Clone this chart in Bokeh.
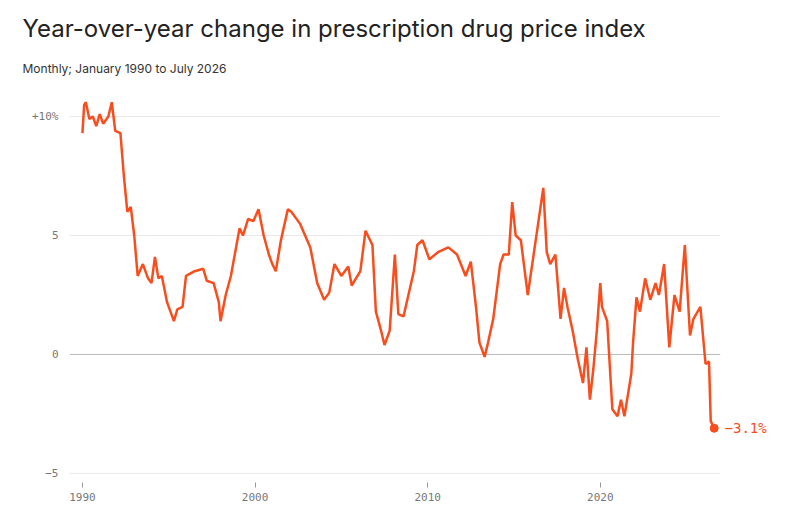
from bokeh.plotting import figure
from bokeh.models import Title, FixedTicker, CustomJSTickFormatter
from bokeh.core.properties import value
from bokeh.embed import file_html
from bokeh.resources import INLINE

years = [1990.0,1990.1,1990.2,1990.4,1990.6,1990.8,1991.0,1991.2,1991.5,1991.7,1991.9,1992.2,1992.4,1992.6,1992.8,1993.0,1993.2,1993.5,1993.8,1994.0,1994.2,1994.4,1994.6,1994.9,1995.3,1995.5,1995.8,1996.0,1996.5,1997.0,1997.2,1997.6,1997.9,1998.0,1998.3,1998.6,1998.9,1999.1,1999.3,1999.6,1999.9,2000.2,2000.5,2000.8,2001.0,2001.2,2001.5,2001.9,2002.1,2002.6,2003.2,2003.6,2004.0,2004.3,2004.6,2005.0,2005.4,2005.6,2006.1,2006.4,2006.8,2007.0,2007.3,2007.5,2007.8,2008.1,2008.3,2008.6,2009.2,2009.4,2009.7,2010.1,2010.6,2011.2,2011.7,2012.2,2012.5,2012.8,2013.0,2013.3,2013.5,2013.8,2014.2,2014.4,2014.7,2014.9,2015.1,2015.4,2015.8,2016.1,2016.4,2016.7,2016.9,2017.1,2017.4,2017.7,2017.9,2018.1,2018.4,2018.7,2019.0,2019.2,2019.4,2019.6,2019.8,2020.0,2020.1,2020.4,2020.7,2021.0,2021.2,2021.4,2021.8,2021.9,2022.1,2022.3,2022.6,2022.9,2023.2,2023.4,2023.7,2024.0,2024.3,2024.6,2024.9,2025.2,2025.4,2025.8,2026.1,2026.3,2026.4,2026.6,2026.6]
values = [9.3,10.5,10.6,9.9,10.0,9.6,10.1,9.7,10.0,10.6,9.4,9.3,7.5,6.0,6.2,5.0,3.3,3.8,3.2,3.0,4.1,3.2,3.3,2.2,1.4,1.9,2.0,3.3,3.5,3.6,3.1,3.0,2.2,1.4,2.5,3.3,4.5,5.3,5.0,5.7,5.6,6.1,5.0,4.2,3.8,3.5,4.8,6.1,6.0,5.5,4.5,3.0,2.3,2.6,3.8,3.3,3.7,2.9,3.5,5.2,4.6,1.8,1.0,0.4,1.0,4.2,1.7,1.6,3.5,4.6,4.8,4.0,4.3,4.5,4.2,3.3,3.9,2.0,0.5,-0.1,0.5,1.5,3.8,4.2,4.2,6.4,5.0,4.8,2.5,4.0,5.5,7.0,4.3,3.8,4.2,1.5,2.8,2.0,1.0,-0.2,-1.2,0.3,-1.9,-0.6,1.0,3.0,2.0,1.4,-2.3,-2.6,-1.9,-2.6,-0.8,0.5,2.4,1.8,3.2,2.3,3.0,2.5,3.8,0.3,2.5,1.8,4.6,0.8,1.5,2.0,-0.4,-0.3,-2.8,-3.1]
x_ticks = [1990, 2000, 2010, 2020]
y_ticks = [-5, 0, 5, 10]
last_label = "−3.1%"

orange = "#fa4d1e"
x0, x1 = 1989.25, 2030.5
grid_end = 2026.95
p = figure(width=785, height=515, output_backend="svg", toolbar_location=None,
           x_range=(x0, x1), y_range=(-5.38, 10.8),
           min_border_left=69, min_border_right=4, min_border_top=10, min_border_bottom=33)
p.add_layout(Title(text="Monthly; January 1990 to July 2026", text_font="Inter", text_font_size="12px",
                   text_color="#333333", text_font_style="normal", offset=-47, standoff=44), "above")
p.add_layout(Title(text="Year-over-year change in prescription drug price index", text_font="Inter",
                   text_font_size="24px", text_color="#222222", text_font_style="normal", offset=-47,
                   standoff=-13), "above")
p.add_layout(Title(text=" ", text_font_size="14px", standoff=0), "above")
p.outline_line_color = None
p.xgrid.grid_line_color = None
p.ygrid.grid_line_color = None
p.yaxis.ticker = FixedTicker(ticks=y_ticks)
p.xaxis.ticker = FixedTicker(ticks=x_ticks)
p.yaxis.formatter = CustomJSTickFormatter(code="return tick==10?'+10%':(tick<0?'−'+(-tick):''+tick);")
for ax in (p.xaxis, p.yaxis):
    ax.major_label_text_font = "DejaVu Sans Mono"
    ax.major_label_text_font_size = "11px"
    ax.major_label_text_color = "#777777"
    ax.axis_line_color = None
    ax.minor_tick_line_color = None
p.yaxis.major_tick_line_color = None
p.xaxis.major_tick_line_color = "#999999"
p.xaxis.major_tick_in = 0
p.xaxis.major_tick_out = 5
gy = [t for t in y_ticks if t != 0]
p.segment(x0=[x0]*len(gy), y0=gy, x1=[grid_end]*len(gy), y1=gy, line_color="#e8e8e8", line_width=1)
p.segment(x0=[x0], y0=[0], x1=[grid_end], y1=[0], line_color="#bbbbbb", line_width=1)
p.line(years, values, line_color=orange, line_width=2.5)
p.scatter([years[-1]], [values[-1]], size=8, color=orange)
p.text([years[-1] + 0.6], [values[-1]], text=[last_label], text_color=orange,
       text_font_size="14px", text_baseline="middle", text_font=value("DejaVu Sans Mono"))
open("out.html", "w").write(file_html(p, INLINE))
